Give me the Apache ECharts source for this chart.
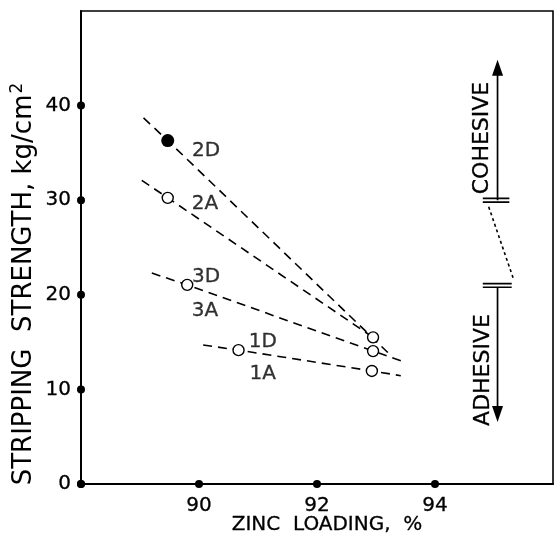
<!DOCTYPE html>
<html><head><meta charset="utf-8">
<script src="https://cdn.jsdelivr.net/npm/echarts@6/dist/echarts.min.js"></script>
<style>html,body{margin:0;padding:0;background:#fff}#c{width:556px;height:535px}</style>
</head><body><div id="c"></div>
<script>
// ---- data ----
const xTicks = [88, 90, 92, 94];
const yTicks = [0, 10, 20, 30, 40];
const line2D = [[89.06, 38.7], [89.47, 36.3], [93.2, 13.9]];
const line2A = [[89.03, 32.1], [89.47, 30.25], [92.95, 15.5]];
const line3D = [[89.2, 22.3], [89.8, 21.05], [92.95, 14.05], [93.5, 12.85]];
const line1D = [[90.07, 14.7], [90.67, 14.15], [92.93, 11.95], [93.42, 11.45]];
const filledPts = [[89.47, 36.3]];
const openPts = [[89.47, 30.25], [89.8, 21.05], [90.67, 14.15], [92.95, 15.5], [92.95, 14.05], [92.93, 11.95]];
const curveNames = ['2D', '2A', '3D', '3A', '1D', '1A'];
const curveLabelAt = [[90.12, 35.2], [90.1, 29.6], [90.12, 21.95], [90.1, 18.35], [91.08, 15.07], [91.08, 11.68]];
// annotation (cohesive / adhesive) in data units
const cohesiveShaft = [[95.06, 30.0], [95.06, 44.0]];
const adhesiveShaft = [[95.06, 20.8], [95.06, 7.4]];
const cohesiveBars = [[[94.81, 30.2], [95.26, 30.2]], [[94.81, 29.8], [95.26, 29.8]]];
const adhesiveBars = [[[94.81, 21.18], [95.3, 21.18]], [[94.81, 20.8], [95.3, 20.8]]];
const breakLink = [[94.91, 29.3], [95.34, 21.5]];

const FONT = 'DejaVu Sans';
const INK = {textBorderColor: '#000', textBorderWidth: 0.3};
const chart = echarts.init(document.getElementById('c'), null, {renderer: 'canvas'});

function dashed(data) {
  return {type: 'line', data: data, symbol: 'none', silent: true, z: 2,
    lineStyle: {color: '#000', width: 1.6, type: [9, 6]}};
}
function solid(data, extra) {
  return Object.assign({type: 'line', data: data, symbol: 'none', silent: true, z: 2,
    lineStyle: {color: '#000', width: 1.7}}, extra || {});
}

const series = [
  dashed(line2D), dashed(line2A), dashed(line3D), dashed(line1D),
  {type: 'scatter', data: openPts, symbol: 'circle', symbolSize: 11, z: 5,
    itemStyle: {color: '#fff', borderColor: '#000', borderWidth: 1.4, opacity: 1}},
  {type: 'scatter', data: filledPts, symbol: 'circle', symbolSize: 13, z: 5,
    itemStyle: {color: '#000', opacity: 1}},
  {type: 'scatter', data: curveNames.map((n, i) => ({name: n, value: curveLabelAt[i]})),
    symbolSize: 0, z: 6,
    label: Object.assign({show: true, position: 'inside', formatter: '{b}', color: '#000',
      fontFamily: FONT, fontSize: 20}, INK)},
  // tick dots
  {type: 'scatter', data: xTicks.map(v => [v, 0]), symbolSize: 8, clip: false, z: 7,
    itemStyle: {color: '#000', opacity: 1}},
  {type: 'scatter', data: yTicks.map(v => [88, v]), symbolSize: 8, clip: false, z: 7,
    itemStyle: {color: '#000', opacity: 1}},
  // annotation
  solid([{value: cohesiveShaft[0]}, {value: cohesiveShaft[1], symbol: 'triangle', symbolSize: [11, 16]}],
    {symbol: 'none', showSymbol: true, itemStyle: {color: '#000'}}),
  solid([{value: adhesiveShaft[0]}, {value: adhesiveShaft[1], symbol: 'triangle', symbolSize: [11, 16], symbolRotate: 180}],
    {symbol: 'none', showSymbol: true, itemStyle: {color: '#000'}}),
  solid(cohesiveBars[0]), solid(cohesiveBars[1]),
  solid(adhesiveBars[0]), solid(adhesiveBars[1]),
  {type: 'line', data: breakLink, symbol: 'none', silent: true,
    lineStyle: {color: '#000', width: 1.6, type: [3, 3]}}
];

chart.setOption({
  animation: false,
  backgroundColor: '#fff',
  grid: {left: 81, right: 1, top: 11, bottom: 51, show: true, borderColor: '#000', borderWidth: 1.6},
  xAxis: {type: 'value', min: 88, max: 96, interval: 2,
    axisLine: {lineStyle: {color: '#000', width: 2}}, axisTick: {show: false}, splitLine: {show: false},
    axisLabel: Object.assign({color: '#000', fontFamily: FONT, fontSize: 20, margin: 12,
      formatter: v => (v === 88 || v === 96) ? '' : String(v)}, INK)},
  yAxis: {type: 'value', min: 0, max: 50, interval: 10,
    axisLine: {lineStyle: {color: '#000', width: 2}}, axisTick: {show: false}, splitLine: {show: false},
    axisLabel: Object.assign({color: '#000', fontFamily: FONT, fontSize: 20, margin: 10,
      formatter: v => v === 50 ? '' : String(v)}, INK)},
  graphic: [
    {type: 'text', x: 327, y: 525, style: Object.assign({text: 'ZINC  LOADING,  %', fill: '#000', stroke: '#000', lineWidth: 0.3,
      fontFamily: FONT, fontSize: 20, align: 'center', verticalAlign: 'middle'})},
    {type: 'text', x: 24, y: 284, rotation: Math.PI / 2, style: {
      text: '{a|STRIPPING  STRENGTH, kg/cm}{s|2}', align: 'center', verticalAlign: 'middle',
      rich: {a: {fontFamily: FONT, fontSize: 26, fill: '#000', color: '#000'},
             s: {fontFamily: FONT, fontSize: 17, fill: '#000', color: '#000', verticalAlign: 'top', padding: [0, 0, 13, 1]}}}},
    {type: 'text', x: 482.5, y: 138, rotation: Math.PI / 2, style: {text: 'COHESIVE', fill: '#000', stroke: '#000', lineWidth: 0.3,
      fontFamily: FONT, fontSize: 22, align: 'center', verticalAlign: 'middle'}},
    {type: 'text', x: 483, y: 370, rotation: Math.PI / 2, style: {text: 'ADHESIVE', fill: '#000', stroke: '#000', lineWidth: 0.3,
      fontFamily: FONT, fontSize: 22, align: 'center', verticalAlign: 'middle'}}
  ],
  series: series
});
</script></body></html>
